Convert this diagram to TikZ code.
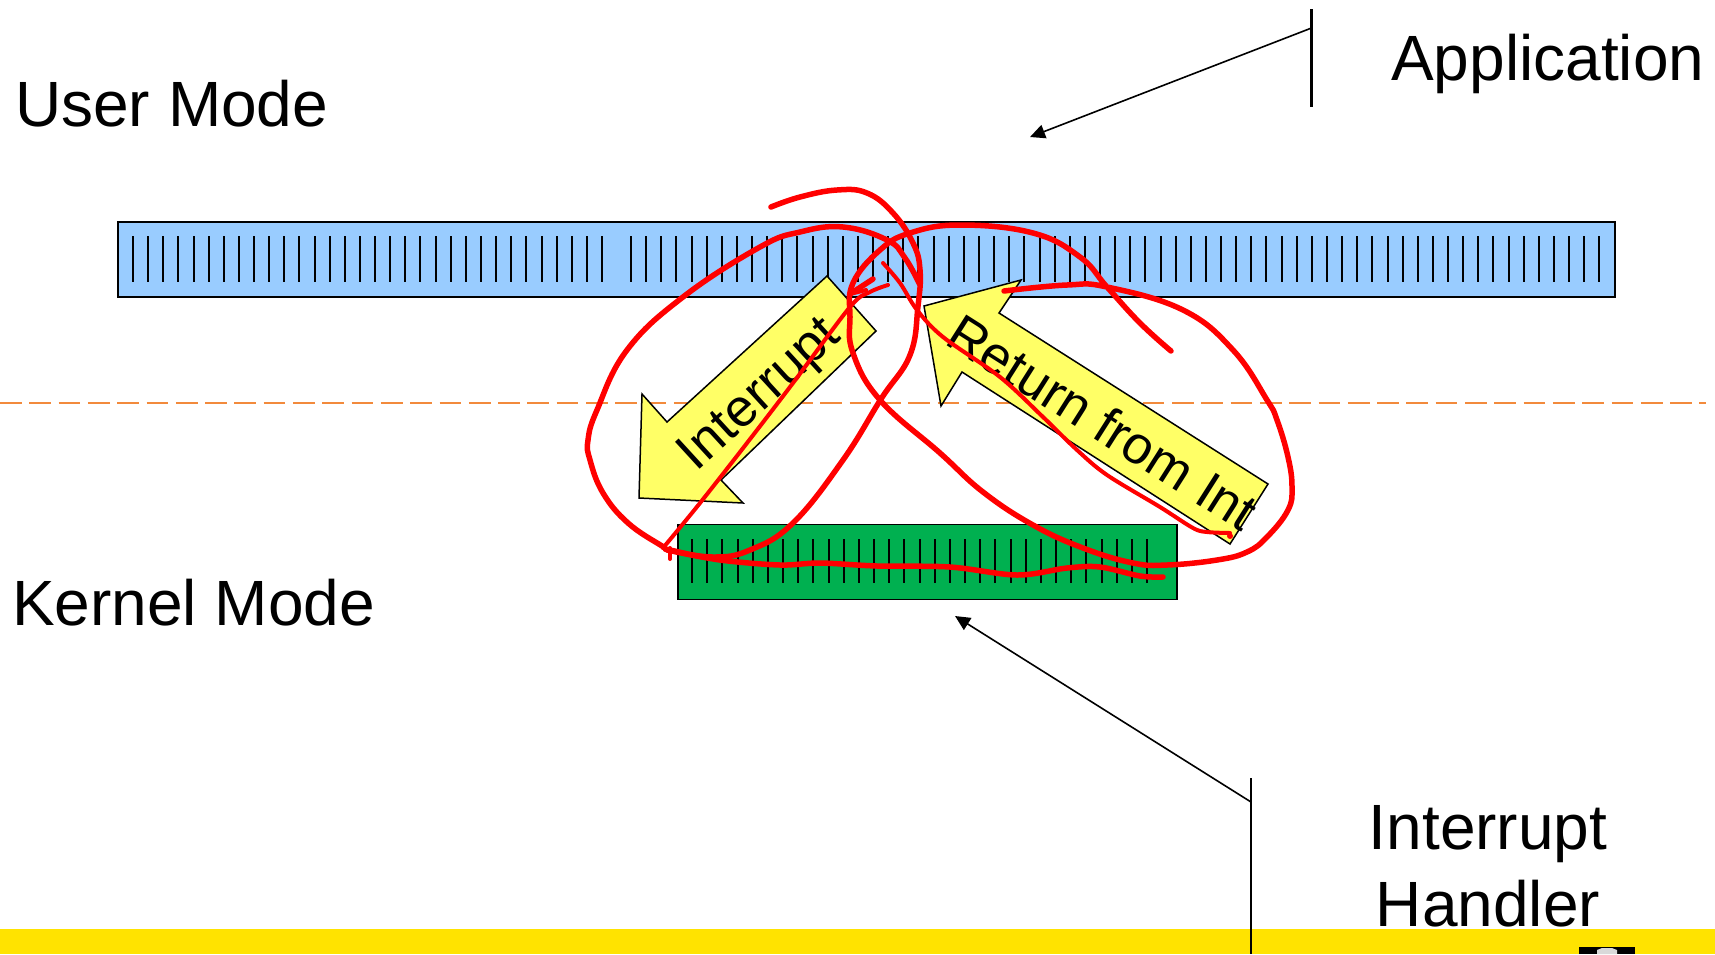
\documentclass[tikz,border=0pt]{standalone}
\usepackage{fontspec}
\setmainfont{Liberation Sans}
\usetikzlibrary{arrows.meta}
\definecolor{bluebar}{HTML}{99CCFF}
\definecolor{greenbar}{HTML}{00B050}
\definecolor{arrowyellow}{HTML}{FFFF66}
\definecolor{bandyellow}{HTML}{FFE300}
\definecolor{dashorange}{HTML}{F28A3C}
\definecolor{inkred}{HTML}{FF0000}
\tikzset{
  bigtext/.style={font=\fontsize{64}{70}\selectfont, inner sep=0pt, anchor=base west},
  arrowtext/.style={font=\fontsize{53}{60}\selectfont, inner sep=0pt},
  barbox/.style={draw=black, line width=1.8pt, inner sep=0pt, anchor=north west},
  tick/.style={line width=2pt, black},
  bigarrow/.style={draw=black, fill=arrowyellow, line width=1.5pt, line join=miter},
  pointer/.style={line width=1.6pt, -{Triangle[length=15pt,width=14pt]}},
  post/.style={line width=2.2pt},
  ink/.style={draw=inkred, line width=4pt, line cap=round, line join=round},
  inkthick/.style={draw=inkred, line width=5.5pt, line cap=round, line join=round},
}
\begin{document}
\begin{tikzpicture}[x=1pt,y=-1pt]
\useasboundingbox (0,0) rectangle (1715,954);
\fill[white] (0,0) rectangle (1715,954);
% bottom band and crest
\fill[bandyellow] (0,929) rectangle (1715,954);
\fill[black] (1579,947) rectangle (1635,954);
\fill[white!85!black] (1597,954) -- (1597,950) -- (1602,948) -- (1612,948) -- (1617,950) -- (1617,954) -- cycle;
% dashed boundary
\coordinate (dashL) at (0,403);
\coordinate (dashR) at (1706,403);
\draw[dashorange, line width=2.4pt, dash pattern=on 21.7pt off 7.6pt] (dashL) -- (dashR);
% bars
\node[barbox, fill=bluebar, minimum width=1497pt, minimum height=75pt] (userbar) at (117,221) {};
\node[barbox, fill=greenbar, minimum width=499pt, minimum height=75pt] (kernelbar) at (677,523.5) {};
\foreach \i in {0,...,31} \draw[tick] ({133+15.13*\i},236) -- ({133+15.13*\i},282);
\foreach \i in {0,...,64} \draw[tick] ({631+15.13*\i},236) -- ({631+15.13*\i},282);
\foreach \i in {0,...,30} \draw[tick] ({692+15.17*\i},539) -- ({692+15.17*\i},583);
% block arrows
\draw[bigarrow] (827,276) -- (876,331) -- (721,480) -- (743,503) -- (639,498) -- (642,394) -- (667,422) -- cycle;
\draw[bigarrow] (924,306) -- (1021,280) -- (999,313) -- (1268,484) -- (1230,544) -- (962,372) -- (941,406) -- cycle;
\node[arrowtext, rotate=42.5] (intlabel) at (761,396) {Interrupt};
\node[arrowtext, rotate=-32.4] (retlabel) at (1103,422) {Return from Int};
% labels
\node[bigtext] (user) at (15,126) {User Mode};
\node[bigtext] (kernel) at (12,625) {Kernel Mode};
\node[bigtext] (app) at (1391,80) {Application};
\node[bigtext, anchor=base] (handler1) at (1488,849) {Interrupt};
\node[bigtext, anchor=base] (handler2) at (1488,926) {Handler};
% pointers
\coordinate (appTop) at (1311.5,9);
\coordinate (appBot) at (1311.5,107);
\coordinate (appFrom) at (1311.5,28);
\coordinate (appTo) at (1030,137);
\coordinate (hTop) at (1251,778);
\coordinate (hBot) at (1251,954);
\coordinate (hFrom) at (1251,802);
\coordinate (hTo) at (955,616);
\draw[post] (appTop) -- (appBot);
\draw[post] (hTop) -- (hBot);
\draw[pointer] (appFrom) -- (appTo);
\draw[pointer] (hFrom) -- (hTo);
% red ink
\draw[inkthick] plot[smooth, tension=0.7] coordinates {(771,207) (800,197) (837,190) (867,193) (893,213) (913,243) (920,270) (918,306) (910,355) (881,399) (843,460) (793,523) (750,550) (713,557) (670,550) (662,546) (628,523) (603,493) (590,460) (588,440) (597,410) (627,350) (683,297) (760,247) (800,232) (843,227) (887,240) (905,258) (920,285)};
\draw[ink] plot[smooth, tension=0.55] coordinates {(663,548) (700,503) (747,443) (793,383) (850,307) (870,292) (888,285)};
\draw[inkthick] (850,294) -- (873,279);
\draw[ink] (850,294) -- (866,290);
\draw[ink] plot[smooth, tension=0.55] coordinates {(883,263) (900,283) (917,310) (943,337) (1000,377) (1043,417) (1077,450) (1107,475) (1160,507) (1193,528) (1207,532) (1230,533)};
\fill[inkred] (1230,536) circle (3pt);
\draw[inkthick] plot[smooth, tension=0.7] coordinates {(1004,291) (1067,285) (1107,287) (1183,310) (1233,350) (1267,400) (1277,420) (1288,457) (1292,487) (1288,510) (1267,537) (1247,552) (1217,560) (1167,565) (1133,563) (1083,548) (1033,525) (983,492) (940,453) (880,400) (853,353) (850,317) (853,283) (880,250) (910,233) (960,225) (1033,233) (1080,257) (1107,287) (1140,323) (1171,351)};
\draw[inkthick] plot[smooth, tension=0.55] coordinates {(667,550) (720,560) (780,565) (820,563) (877,566) (950,567) (1017,575) (1067,568) (1100,567) (1140,576) (1163,577)};
\draw[ink] (670,548) -- (670,559);
\end{tikzpicture}
\end{document}
